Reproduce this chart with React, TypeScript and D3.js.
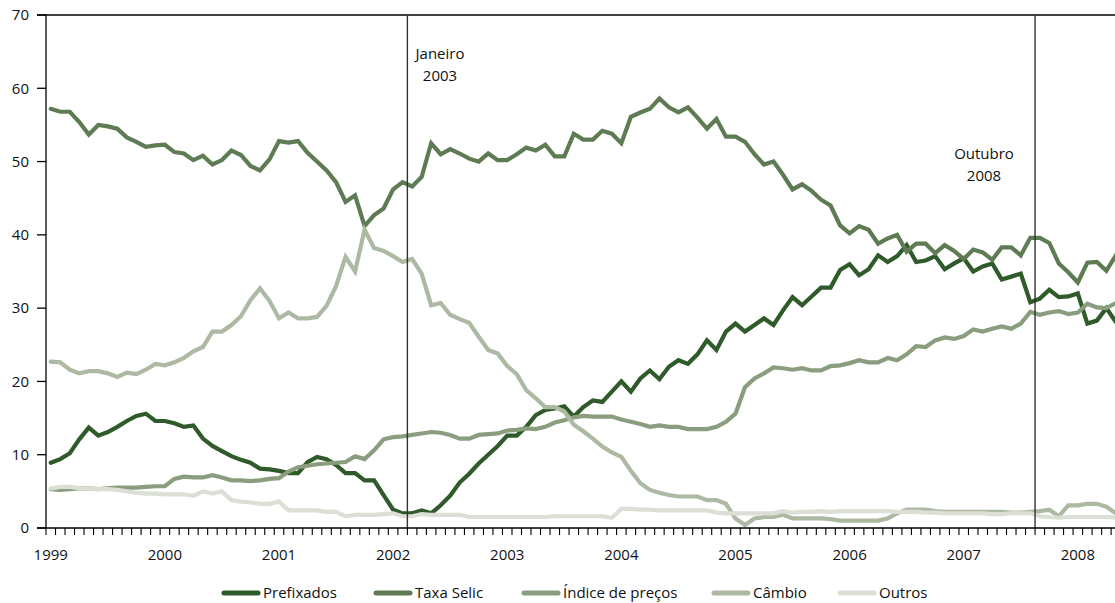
import React from "react";
import * as d3 from "d3";

const years = ["1999", "2000", "2001", "2002", "2003", "2004", "2005", "2006", "2007", "2008"];
const yTicks = [0, 10, 20, 30, 40, 50, 60, 70];

const prefixados = [
  8.9, 9.4, 10.2, 12.1, 13.7, 12.6, 13.1, 13.8, 14.6, 15.3, 15.6, 14.6, 14.6, 14.3, 13.8, 14.0, 12.2, 11.2, 10.5, 9.8,
  9.3, 8.9, 8.1, 8.0, 7.8, 7.5, 7.5, 9.0, 9.7, 9.4, 8.6, 7.5, 7.5, 6.5, 6.5, 4.5, 2.5, 2.0, 2.0, 2.4,
  2.0, 3.1, 4.4, 6.2, 7.4, 8.8, 10.0, 11.2, 12.6, 12.6, 13.8, 15.4, 16.1, 16.3, 16.6, 15.2, 16.5, 17.4, 17.2, 18.6,
  20.0, 18.6, 20.4, 21.5, 20.3, 22.0, 22.9, 22.4, 23.7, 25.6, 24.3, 26.8, 27.9, 26.8, 27.7, 28.6, 27.7, 29.7, 31.5, 30.4,
  31.6, 32.8, 32.8, 35.2, 36.0, 34.5, 35.3, 37.2, 36.3, 37.1, 38.6, 36.3, 36.5, 37.1, 35.3, 36.1, 36.8, 35.0, 35.7, 36.1,
  33.9, 34.3, 34.7, 30.8, 31.3, 32.5, 31.5, 31.6, 32.0, 27.9, 28.3, 30.0, 28.1,
];
const taxaSelic = [
  57.2, 56.8, 56.8, 55.4, 53.7, 55.0, 54.8, 54.5, 53.3, 52.7, 52.0, 52.2, 52.3, 51.3, 51.1, 50.2, 50.8, 49.6, 50.2, 51.5,
  50.9, 49.4, 48.8, 50.3, 52.8, 52.6, 52.8, 51.2, 50.0, 48.8, 47.2, 44.5, 45.4, 41.2, 42.7, 43.6, 46.2, 47.2, 46.6, 47.9,
  52.5, 51.0, 51.7, 51.1, 50.4, 50.0, 51.1, 50.2, 50.2, 51.0, 51.9, 51.5, 52.3, 50.7, 50.7, 53.8, 53.0, 53.0, 54.2, 53.8,
  52.5, 56.1, 56.7, 57.2, 58.6, 57.4, 56.7, 57.4, 56.0, 54.5, 55.8, 53.4, 53.4, 52.7, 51.0, 49.6, 50.0, 48.2, 46.2, 46.9,
  46.0, 44.8, 44.0, 41.3, 40.2, 41.2, 40.7, 38.8, 39.5, 40.0, 37.7, 38.8, 38.8, 37.5, 38.6, 37.8, 36.7, 38.0, 37.6, 36.6,
  38.3, 38.3, 37.2, 39.6, 39.6, 38.9, 36.1, 34.9, 33.5, 36.2, 36.3, 35.1, 37.2,
];
const indicePrecos = [
  5.3, 5.2, 5.3, 5.4, 5.4, 5.3, 5.4, 5.5, 5.5, 5.5, 5.6, 5.7, 5.7, 6.7, 7.0, 6.9, 6.9, 7.2, 6.9, 6.5,
  6.5, 6.4, 6.5, 6.7, 6.8, 7.7, 8.3, 8.5, 8.7, 8.8, 8.9, 9.0, 9.8, 9.4, 10.6, 12.1, 12.4, 12.5, 12.7, 12.9,
  13.1, 13.0, 12.7, 12.2, 12.2, 12.7, 12.8, 12.9, 13.3, 13.4, 13.6, 13.5, 13.8, 14.4, 14.7, 15.1, 15.3, 15.2, 15.2, 15.2,
  14.8, 14.5, 14.2, 13.8, 14.0, 13.8, 13.8, 13.5, 13.5, 13.5, 13.8, 14.5, 15.6, 19.2, 20.4, 21.1, 21.9, 21.8, 21.6, 21.8,
  21.5, 21.5, 22.1, 22.2, 22.5, 22.9, 22.6, 22.6, 23.2, 22.9, 23.7, 24.8, 24.7, 25.6, 26.0, 25.8, 26.2, 27.1, 26.8, 27.2,
  27.5, 27.2, 27.9, 29.5, 29.1, 29.4, 29.6, 29.2, 29.4, 30.6, 30.1, 30.0, 30.7,
];
const cambio = [
  22.7, 22.6, 21.6, 21.1, 21.4, 21.4, 21.1, 20.6, 21.2, 21.0, 21.6, 22.4, 22.2, 22.6, 23.2, 24.1, 24.7, 26.8, 26.8, 27.7,
  28.9, 31.1, 32.7, 31.0, 28.6, 29.4, 28.6, 28.6, 28.8, 30.3, 33.0, 37.0, 35.0, 40.7, 38.2, 37.8, 37.1, 36.3, 36.7, 34.7,
  30.4, 30.7, 29.1, 28.5, 28.0, 26.1, 24.3, 23.8, 22.1, 21.0, 18.8, 17.7, 16.5, 16.5, 15.9, 14.1, 13.2, 12.2, 11.1, 10.3,
  9.7, 7.8, 6.1, 5.2, 4.8, 4.5, 4.3, 4.3, 4.3, 3.8, 3.8, 3.3, 1.3, 0.4, 1.3, 1.5, 1.5, 1.8, 1.3, 1.3,
  1.3, 1.3, 1.2, 1.0, 1.0, 1.0, 1.0, 1.0, 1.3, 2.0, 2.5, 2.5, 2.5, 2.3, 2.2, 2.2, 2.2, 2.2, 2.2, 2.2,
  2.2, 2.1, 2.1, 2.2, 2.3, 2.5, 1.6, 3.1, 3.1, 3.3, 3.3, 2.9, 2.0,
];
const outros = [
  5.4, 5.6, 5.6, 5.4, 5.4, 5.3, 5.3, 5.2, 5.0, 4.8, 4.7, 4.7, 4.6, 4.6, 4.6, 4.4, 5.0, 4.7, 5.0, 3.8,
  3.6, 3.5, 3.3, 3.3, 3.6, 2.4, 2.4, 2.4, 2.4, 2.2, 2.2, 1.6, 1.8, 1.8, 1.8, 1.9, 2.0, 1.6, 1.6, 1.9,
  1.8, 1.8, 1.8, 1.8, 1.5, 1.5, 1.5, 1.5, 1.5, 1.5, 1.5, 1.5, 1.5, 1.6, 1.6, 1.6, 1.6, 1.6, 1.6, 1.4,
  2.6, 2.6, 2.5, 2.5, 2.4, 2.4, 2.4, 2.4, 2.4, 2.4, 2.1, 2.0, 2.0, 2.0, 2.0, 2.0, 2.0, 2.3, 2.1, 2.2,
  2.2, 2.3, 2.2, 2.3, 2.3, 2.3, 2.3, 2.3, 2.3, 2.2, 2.2, 2.2, 2.1, 2.1, 2.0, 2.0, 2.0, 2.0, 2.0, 1.9,
  1.9, 2.0, 2.0, 2.0, 1.6, 1.5, 1.4, 1.5, 1.5, 1.5, 1.5, 1.5, 1.4,
];

const seriesNames = ["Prefixados", "Taxa Selic", "Índice de preços", "Câmbio", "Outros"];
const seriesValues = [prefixados, taxaSelic, indicePrecos, cambio, outros];
const seriesColors = ["#2f5a2a", "#5e7b54", "#8a9d7e", "#adb9a3", "#dcdfd5"];

const markers = [
  { label: "Janeiro", sub: "2003", monthIndex: 38, textX: 440, textY: 59 },
  { label: "Outubro", sub: "2008", monthIndex: 104, textX: 984, textY: 159 },
];

const legendX = [222, 374, 522, 712, 838];

const W = 1115;
const H = 603;
const left = 46;
const top = 15;
const bottom = 528;
const nMonths = 113;
const monthStep = 9.51;
const font = "'Open Sans', 'Noto Sans', sans-serif";
const fs = 15;

export default function App() {
  const x = d3.scaleLinear().domain([0, nMonths]).range([left, left + monthStep * nMonths]);
  const y = d3.scaleLinear().domain([0, 70]).range([bottom, top]);
  const line = d3
    .line<number>()
    .x((_, i) => x(i + 0.5))
    .y((d) => y(d))
    .curve(d3.curveLinear);
  const monthTicks = d3.range(0, nMonths + 1);

  return (
    <svg
      width={W}
      height={H}
      style={{ position: "absolute", left: 0, top: 0, background: "#fff" }}
      fontFamily={font}
    >
      <defs>
        <clipPath id="plot">
          <rect x={left} y={0} width={W - left} height={bottom + 2} />
        </clipPath>
      </defs>
      <line x1={37} x2={W} y1={y(70)} y2={y(70)} stroke="#000" strokeWidth={1.3} />
      <line x1={left} x2={left} y1={y(70)} y2={bottom} stroke="#000" strokeWidth={1.3} />
      {yTicks.map((t) => (
        <g key={t}>
          <line x1={37} x2={left} y1={y(t)} y2={y(t)} stroke="#000" strokeWidth={1.3} />
          <text x={29} y={y(t)} dy="0.35em" textAnchor="end" fontSize={fs} fill="#111">
            {t}
          </text>
        </g>
      ))}
      <g clipPath="url(#plot)">
        {seriesValues.map((vals, k) => (
          <path
            key={k}
            d={line(vals) || ""}
            fill="none"
            stroke={seriesColors[k]}
            strokeWidth={4.2}
            strokeLinejoin="miter"
            strokeLinecap="round"
          />
        ))}
      </g>
      {markers.map((m) => (
        <g key={m.label}>
          <line
            x1={x(m.monthIndex)}
            x2={x(m.monthIndex)}
            y1={y(70)}
            y2={bottom}
            stroke="#333"
            strokeWidth={1.4}
          />
          <text x={m.textX} y={m.textY} textAnchor="middle" fontSize={fs} fill="#111">
            {m.label}
          </text>
          <text x={m.textX} y={m.textY + 22} textAnchor="middle" fontSize={fs} fill="#111">
            {m.sub}
          </text>
        </g>
      ))}
      <line x1={37} x2={W} y1={bottom} y2={bottom} stroke="#000" strokeWidth={1.3} />
      {monthTicks.map((t) => (
        <line key={t} x1={x(t)} x2={x(t)} y1={bottom} y2={bottom + 7} stroke="#000" strokeWidth={1.1} />
      ))}
      {years.map((yr, i) => (
        <text key={yr} x={x(i * 12 + 0.5)} y={560} textAnchor="middle" fontSize={fs} fill="#111">
          {yr}
        </text>
      ))}
      {seriesNames.map((name, k) => (
        <g key={name} transform={`translate(${legendX[k]},593)`}>
          <line x1={2} x2={36} y1={0} y2={0} stroke={seriesColors[k]} strokeWidth={5} strokeLinecap="round" />
          <text x={41} y={0} dy="0.35em" fontSize={fs} fill="#111">
            {name}
          </text>
        </g>
      ))}
    </svg>
  );
}
